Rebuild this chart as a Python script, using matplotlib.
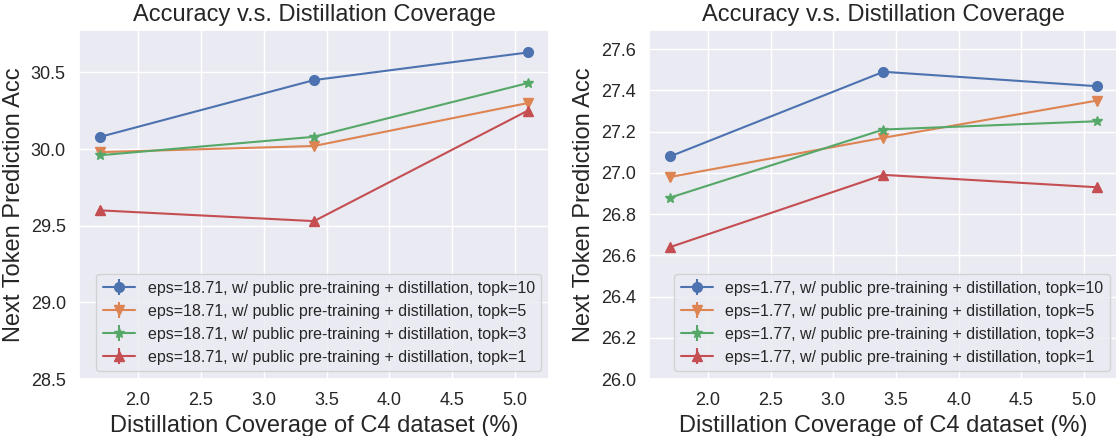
import matplotlib
matplotlib.use("Agg")
import matplotlib.pyplot as plt
import seaborn as sns

sns.set_theme(style="darkgrid")
plt.rcParams['font.family'] = ['Liberation Sans', 'DejaVu Sans']

coverage = [1.7, 3.4, 5.1]
topk_labels = ["topk=10", "topk=5", "topk=3", "topk=1"]
markers = ["o", "v", "*", "^"]

# eps=18.71
acc_eps18 = [
    [30.08, 30.45, 30.63],
    [29.98, 30.02, 30.30],
    [29.96, 30.08, 30.43],
    [29.60, 29.53, 30.25],
]
# eps=1.77
acc_eps1 = [
    [27.08, 27.49, 27.42],
    [26.98, 27.17, 27.35],
    [26.88, 27.21, 27.25],
    [26.64, 26.99, 26.93],
]

W, H = 1116, 436
fig = plt.figure(figsize=(W / 100, H / 100), dpi=100)
ax1 = fig.add_axes([79 / W, 1 - 379 / H, 470 / W, 349.5 / H])
ax2 = fig.add_axes([649 / W, 1 - 379 / H, 469 / W, 349.5 / H])

panels = [
    (ax1, acc_eps18, "18.71", (28.5, 30.78)),
    (ax2, acc_eps1, "1.77", (26.0, 27.695)),
]

for ax, data, eps, ylim in panels:
    for vals, tk, m in zip(data, topk_labels, markers):
        ax.errorbar(coverage, vals, yerr=[0, 0, 0], marker=m, markersize=7,
                    label=f"eps={eps}, w/ public pre-training + distillation, {tk}")
    ax.set_ylim(*ylim)
    ax.set_title("Accuracy v.s. Distillation Coverage", fontsize=17)
    ax.set_xlabel("Distillation Coverage of C4 dataset (%)", fontsize=17)
    ax.set_ylabel("Next Token Prediction Acc", fontsize=17)
    ax.tick_params(labelsize=13)
    ax.legend(loc="lower right", fontsize=11.5)

plt.savefig("out.png")
